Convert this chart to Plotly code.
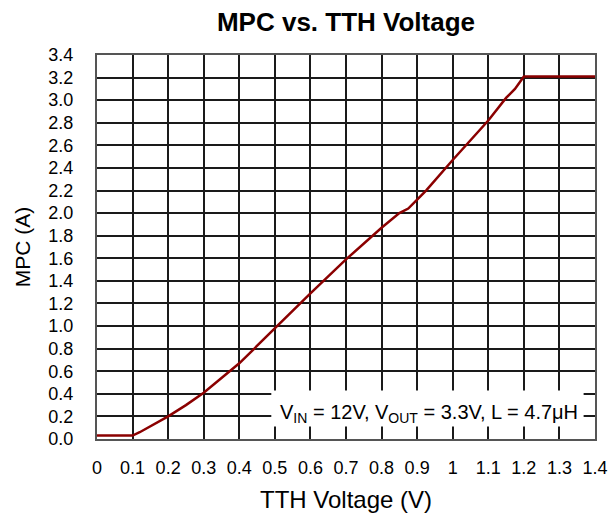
import plotly.graph_objects as go

# Data
tth_v = [0, 0.1, 0.12, 0.15, 0.2, 0.25, 0.3, 0.4, 0.5, 0.6, 0.7, 0.8, 0.85, 0.875,
         0.9, 0.925, 1.0, 1.05, 1.1, 1.15, 1.175, 1.2, 1.25, 1.3, 1.4]
mpc_a = [0.03, 0.03, 0.06, 0.11, 0.2, 0.3, 0.41, 0.67, 0.98, 1.29, 1.59, 1.87, 2.0, 2.04,
         2.12, 2.2, 2.47, 2.65, 2.82, 3.02, 3.1, 3.21, 3.21, 3.21, 3.21]

x_tickvals = [0, 0.1, 0.2, 0.3, 0.4, 0.5, 0.6, 0.7, 0.8, 0.9, 1.0, 1.1, 1.2, 1.3, 1.4]
x_ticktext = ["0", "0.1", "0.2", "0.3", "0.4", "0.5", "0.6", "0.7", "0.8", "0.9",
              "1", "1.1", "1.2", "1.3", "1.4"]
y_tickvals = [0.0, 0.2, 0.4, 0.6, 0.8, 1.0, 1.2, 1.4, 1.6, 1.8, 2.0, 2.2, 2.4, 2.6,
              2.8, 3.0, 3.2, 3.4]
y_ticktext = ["0.0", "0.2", "0.4", "0.6", "0.8", "1.0", "1.2", "1.4", "1.6", "1.8",
              "2.0", "2.2", "2.4", "2.6", "2.8", "3.0", "3.2", "3.4"]

FONT = "Liberation Sans, Arial, Helvetica, sans-serif"

fig = go.Figure()
fig.add_trace(go.Scatter(x=tth_v, y=mpc_a, mode="lines",
                         line=dict(color="#8b0000", width=2.5), showlegend=False,
                         hoverinfo="skip"))

fig.update_layout(
    width=608, height=513,
    margin=dict(l=97, r=13, t=55, b=73.5, autoexpand=False),
    paper_bgcolor="white", plot_bgcolor="white",
    font=dict(family=FONT, color="black"),
    title=dict(text="<b>MPC vs. TTH Voltage</b>", x=0.5, xref="paper", xanchor="center",
               y=0.957, yanchor="middle", font=dict(size=26, color="black", family=FONT)),
    xaxis=dict(range=[0, 1.4], tickvals=x_tickvals, ticktext=x_ticktext,
               showgrid=True, gridcolor="#1a1a1a", gridwidth=1.5,
               showline=True, linecolor="#555555", linewidth=2, mirror=True,
               zeroline=False, ticks="", ticklabelstandoff=11, automargin=False,
               tickfont=dict(size=18, color="black"),
               title=dict(text="TTH Voltage (V)", font=dict(size=24, color="black"),
                          standoff=15)),
    yaxis=dict(range=[0, 3.4], tickvals=y_tickvals, ticktext=y_ticktext,
               showgrid=True, gridcolor="#1a1a1a", gridwidth=1.5,
               showline=True, linecolor="#555555", linewidth=2, mirror=True,
               zeroline=False, ticks="", ticklabelstandoff=18, automargin=False,
               tickfont=dict(size=18, color="black"),
               title=dict(text="MPC (A)", font=dict(size=21, color="black"),
                          standoff=12)),
)

fig.add_shape(type="rect", xref="x", yref="y", x0=0.49, x1=1.368, y0=0.11, y1=0.43,
              fillcolor="white", line=dict(width=0), layer="above")
fig.add_annotation(xref="x", yref="y", x=0.932, y=0.23,
                   text="V<sub>IN</sub> = 12V, V<sub>OUT</sub> = 3.3V, L = 4.7μH",
                   showarrow=False, xanchor="center", yanchor="middle",
                   font=dict(size=20, color="black", family=FONT))

# Remove the default page margin so the figure fills the 608x513 window exactly.
fig.write_html(
    "out.html",
    config={"displayModeBar": False},
    post_script="document.body.style.margin='0';"
                "document.documentElement.style.overflow='hidden';"
                "document.body.style.overflow='hidden';",
)
